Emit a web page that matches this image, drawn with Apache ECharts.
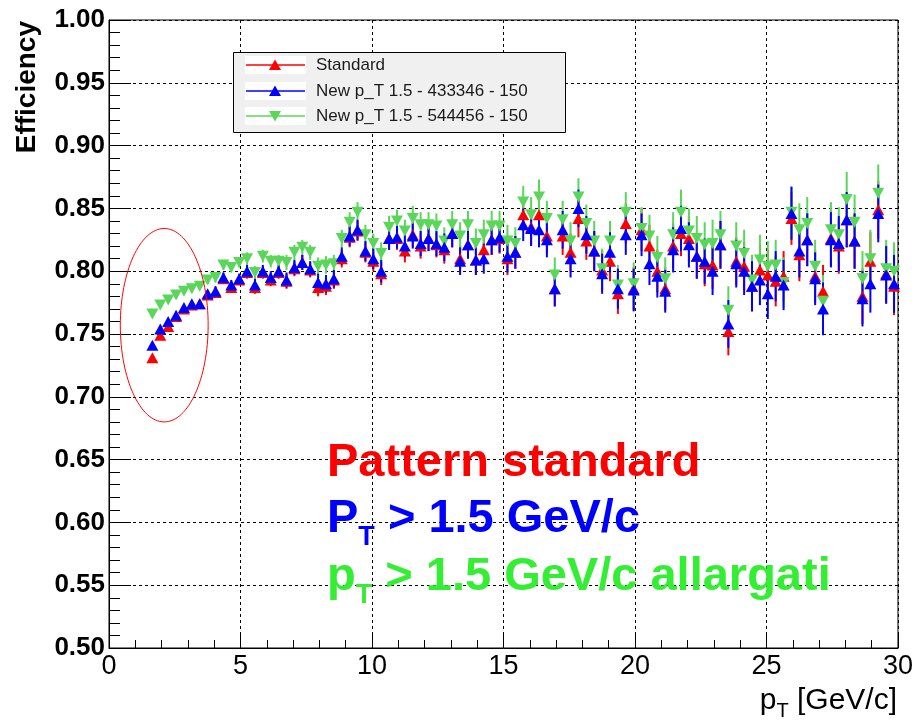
<!DOCTYPE html>
<html>
<head>
<meta charset="utf-8">
<script src="https://cdn.jsdelivr.net/npm/echarts@6/dist/echarts.min.js"></script>
<style>
  html, body { margin: 0; padding: 0; background: #ffffff; }
  #chart { width: 916px; height: 723px; }
</style>
</head>
<body>
<div id="chart"></div>
<script>
// Bin centres in pT [GeV/c] (0.3 GeV wide bins)
const ptBins = [
  1.65, 1.95, 2.25, 2.55, 2.85, 3.15, 3.45, 3.75, 4.05, 4.35,
  4.65, 4.95, 5.25, 5.55, 5.85, 6.15, 6.45, 6.75, 7.05, 7.35,
  7.65, 7.95, 8.25, 8.55, 8.85, 9.15, 9.45, 9.75, 10.05, 10.35,
  10.65, 10.95, 11.25, 11.55, 11.85, 12.15, 12.45, 12.75, 13.05, 13.35,
  13.65, 13.95, 14.25, 14.55, 14.85, 15.15, 15.45, 15.75, 16.05, 16.35,
  16.65, 16.95, 17.25, 17.55, 17.85, 18.15, 18.45, 18.75, 19.05, 19.35,
  19.65, 19.95, 20.25, 20.55, 20.85, 21.15, 21.45, 21.75, 22.05, 22.35,
  22.65, 22.95, 23.25, 23.55, 23.85, 24.15, 24.45, 24.75, 25.05, 25.35,
  25.65, 25.95, 26.25, 26.55, 26.85, 27.15, 27.45, 27.75, 28.05, 28.35,
  28.65, 28.95, 29.25, 29.55, 29.85
];

// Efficiency, standard pattern bank
const effStandard = [
  0.731, 0.749, 0.756, 0.764, 0.770, 0.773, 0.774, 0.781, 0.783, 0.794,
  0.787, 0.793, 0.799, 0.787, 0.799, 0.793, 0.799, 0.792, 0.802, 0.807,
  0.801, 0.787, 0.788, 0.793, 0.810, 0.827, 0.832, 0.815, 0.808, 0.798,
  0.826, 0.826, 0.816, 0.829, 0.820, 0.826, 0.821, 0.817, 0.830, 0.810,
  0.821, 0.809, 0.817, 0.825, 0.826, 0.810, 0.815, 0.845, 0.835, 0.845,
  0.828, 0.786, 0.828, 0.815, 0.842, 0.824, 0.816, 0.801, 0.808, 0.782,
  0.838, 0.786, 0.833, 0.820, 0.800, 0.786, 0.820, 0.830, 0.826, 0.812,
  0.806, 0.805, 0.821, 0.752, 0.808, 0.804, 0.788, 0.801, 0.797, 0.792,
  0.796, 0.842, 0.813, 0.825, 0.796, 0.784, 0.826, 0.820, 0.841, 0.824,
  0.780, 0.808, 0.849, 0.798, 0.788
];

// Efficiency, new bank pT > 1.5 (433346 patterns)
const effNew433 = [
  0.741, 0.754, 0.760, 0.765, 0.771, 0.774, 0.774, 0.782, 0.784, 0.795,
  0.789, 0.794, 0.800, 0.789, 0.800, 0.795, 0.800, 0.793, 0.803, 0.807,
  0.802, 0.791, 0.790, 0.794, 0.812, 0.828, 0.833, 0.816, 0.810, 0.800,
  0.826, 0.827, 0.820, 0.828, 0.822, 0.826, 0.822, 0.819, 0.830, 0.808,
  0.821, 0.809, 0.810, 0.825, 0.827, 0.812, 0.815, 0.837, 0.834, 0.833,
  0.825, 0.786, 0.833, 0.810, 0.850, 0.829, 0.816, 0.798, 0.815, 0.786,
  0.829, 0.785, 0.829, 0.806, 0.796, 0.784, 0.817, 0.834, 0.821, 0.812,
  0.808, 0.800, 0.821, 0.758, 0.806, 0.800, 0.788, 0.793, 0.782, 0.796,
  0.789, 0.846, 0.816, 0.825, 0.794, 0.770, 0.825, 0.822, 0.841, 0.824,
  0.778, 0.790, 0.846, 0.797, 0.790
];

// Efficiency, new bank pT > 1.5 widened (544456 patterns)
const effNew544 = [
  0.766, 0.773, 0.777, 0.781, 0.784, 0.786, 0.788, 0.793, 0.795, 0.805,
  0.803, 0.807, 0.810, 0.799, 0.812, 0.808, 0.808, 0.807, 0.815, 0.819,
  0.815, 0.804, 0.805, 0.806, 0.826, 0.839, 0.847, 0.829, 0.822, 0.814,
  0.835, 0.840, 0.832, 0.842, 0.837, 0.837, 0.836, 0.824, 0.837, 0.828,
  0.837, 0.822, 0.829, 0.836, 0.836, 0.824, 0.822, 0.855, 0.845, 0.859,
  0.842, 0.797, 0.841, 0.824, 0.859, 0.838, 0.824, 0.802, 0.824, 0.789,
  0.847, 0.790, 0.834, 0.828, 0.811, 0.794, 0.829, 0.847, 0.832, 0.826,
  0.821, 0.822, 0.829, 0.769, 0.820, 0.814, 0.793, 0.809, 0.804, 0.805,
  0.791, 0.847, 0.833, 0.838, 0.804, 0.776, 0.833, 0.829, 0.857, 0.839,
  0.794, 0.810, 0.862, 0.802, 0.800
];

// Statistical uncertainty per bin
const effErr = [
  0.002, 0.002, 0.002, 0.003, 0.003, 0.003, 0.003, 0.003, 0.004, 0.004,
  0.004, 0.004, 0.005, 0.005, 0.005, 0.005, 0.005, 0.006, 0.006, 0.006,
  0.006, 0.007, 0.007, 0.007, 0.007, 0.008, 0.008, 0.008, 0.008, 0.009,
  0.009, 0.009, 0.009, 0.010, 0.010, 0.010, 0.010, 0.011, 0.011, 0.011,
  0.011, 0.012, 0.012, 0.012, 0.012, 0.013, 0.013, 0.013, 0.014, 0.014,
  0.014, 0.014, 0.015, 0.015, 0.015, 0.015, 0.016, 0.016, 0.016, 0.016,
  0.016, 0.017, 0.017, 0.017, 0.017, 0.017, 0.018, 0.018, 0.018, 0.018,
  0.018, 0.019, 0.019, 0.019, 0.019, 0.019, 0.020, 0.020, 0.020, 0.020,
  0.020, 0.021, 0.021, 0.021, 0.021, 0.021, 0.022, 0.022, 0.022, 0.022,
  0.022, 0.023, 0.023, 0.023, 0.023
];

const seriesNames = ['Standard', 'New p_T 1.5 - 433346 - 150', 'New p_T 1.5 - 544456 - 150'];
const axisTitleY = 'Efficiency';
const axisTitleX = ['p', 'T', ' [GeV/c]'];
const notes = [
  ['Pattern standard', '', ''],
  ['P', 'T', ' > 1.5 GeV/c'],
  ['p', 'T', ' > 1.5 GeV/c allargati']
];
// Low-pT region that is circled
const highlight = { pt: 2.1, eff: 0.757, dPt: 1.67, dEff: 0.077 };

const colors = ['#ff0000', '#0000ff', '#5ad65a'];
const noteColors = ['#ff0000', '#0000ff', '#33ee33'];

const chart = echarts.init(document.getElementById('chart'), null, { renderer: 'canvas' });

function points(vals) {
  return ptBins.map((x, i) => [x, vals[i], effErr[i]]);
}
function errorBars(vals, color) {
  return {
    type: 'custom', data: points(vals), encode: { x: 0, y: 1 }, silent: true, animation: false,
    renderItem: function (params, api) {
      const x = api.value(0), y = api.value(1), e = api.value(2);
      const a = api.coord([x, y + e]), b = api.coord([x, y - e]);
      return { type: 'line', shape: { x1: a[0], y1: a[1], x2: b[0], y2: b[1] },
               style: { stroke: color, lineWidth: 2 } };
    }
  };
}
function markers(vals, color, rot) {
  return {
    type: 'scatter', data: points(vals), symbol: 'triangle', symbolSize: [12, 11],
    symbolRotate: rot, itemStyle: { color: color, opacity: 1 }, silent: true, animation: false
  };
}

const tickFontY = { fontFamily: 'Liberation Sans', fontWeight: 'bold', fontSize: 26, color: '#000' };
const tickFontX = { fontFamily: '"Liberation Sans Narrow", "Liberation Sans"', fontSize: 27, color: '#000' };

chart.setOption({
  animation: false,
  grid: { left: 109, right: 17, top: 20, bottom: 75, show: true, borderColor: '#000', borderWidth: 1, containLabel: false },
  xAxis: {
    type: 'value', min: 0, max: 30, interval: 5,
    axisLine: { show: true, onZero: false, lineStyle: { color: '#000', width: 1 } },
    axisTick: { show: true, inside: true, length: 14, lineStyle: { color: '#000' } },
    minorTick: { show: true, splitNumber: 5, length: 8, lineStyle: { color: '#000' } },
    splitLine: { show: true, lineStyle: { color: '#000', type: [3, 3], width: 1 } },
    axisLabel: Object.assign({ margin: 5 }, tickFontX)
  },
  yAxis: {
    type: 'value', min: 0.5, max: 1.0, interval: 0.05,
    axisLine: { show: true, onZero: false, lineStyle: { color: '#000', width: 1 } },
    axisTick: { show: true, inside: true, length: 22, lineStyle: { color: '#000' } },
    minorTick: { show: true, splitNumber: 5, length: 11, lineStyle: { color: '#000' } },
    splitLine: { show: true, lineStyle: { color: '#000', type: [3, 3], width: 1 } },
    axisLabel: Object.assign({ margin: 4, formatter: v => v.toFixed(2) }, tickFontY)
  },
  series: [
    errorBars(effStandard, colors[0]), markers(effStandard, colors[0], 0),
    errorBars(effNew544, colors[2]), markers(effNew544, colors[2], 180),
    errorBars(effNew433, colors[1]), markers(effNew433, colors[1], 0)
  ]
});

// ---- text helpers -------------------------------------------------------
const mctx = document.createElement('canvas').getContext('2d');
function fontStr(weight, size, family) { return weight + ' ' + size + 'px ' + family; }
function width(str, font) { mctx.font = font; return mctx.measureText(str).width; }
function midOffset(font) {
  mctx.font = font; mctx.textBaseline = 'middle';
  const d = mctx.measureText('H').actualBoundingBoxDescent;
  mctx.textBaseline = 'alphabetic';
  return d;
}
// main text + subscript + tail, placed on an alphabetic baseline
function subText(parts, x, baseline, color, size, subSize, subDrop, weight, family, alignRight) {
  const f1 = fontStr(weight, size, family), f2 = fontStr(weight, subSize, family);
  const w0 = width(parts[0], f1), w1 = parts[1] ? width(parts[1], f2) : 0, w2 = parts[2] ? width(parts[2], f1) : 0;
  let x0 = alignRight ? x - (w0 + w1 + w2) : x;
  const y1 = baseline - midOffset(f1), y2 = baseline + subDrop - midOffset(f2);
  const els = [];
  const base = { fill: color, fontFamily: family, fontWeight: weight, align: 'left', verticalAlign: 'middle' };
  els.push({ type: 'text', x: x0, y: y1, silent: true, style: Object.assign({ text: parts[0], fontSize: size }, base) });
  if (parts[1]) els.push({ type: 'text', x: x0 + w0, y: y2, silent: true, style: Object.assign({ text: parts[1], fontSize: subSize }, base) });
  if (parts[2]) els.push({ type: 'text', x: x0 + w0 + w1, y: y1, silent: true, style: Object.assign({ text: parts[2], fontSize: size }, base) });
  return els;
}

const graphics = [];

// circled region
const c = chart.convertToPixel({ gridIndex: 0 }, [highlight.pt, highlight.eff]);
const r = chart.convertToPixel({ gridIndex: 0 }, [highlight.pt + highlight.dPt, highlight.eff + highlight.dEff]);
graphics.push({ type: 'ellipse', silent: true, shape: { cx: c[0], cy: c[1], rx: r[0] - c[0], ry: c[1] - r[1] },
  style: { fill: 'none', stroke: '#ff0000', lineWidth: 1 }, z: 10 });

// legend box
const lg = { x: 233, y: 52, w: 332, h: 80, rows: [65, 91, 116] };
graphics.push({ type: 'rect', silent: true, shape: { x: lg.x + 0.5, y: lg.y + 0.5, width: lg.w, height: lg.h },
  style: { fill: '#f0f0f0', stroke: '#000', lineWidth: 1 }, z: 20 });
lg.rows.forEach((ry, i) => {
  graphics.push({ type: 'rect', silent: true, shape: { x: 245, y: ry - 9, width: 61, height: 18 }, style: { fill: '#ffffff' }, z: 21 });
  graphics.push({ type: 'line', silent: true, shape: { x1: 246, y1: ry, x2: 305, y2: ry }, style: { stroke: colors[i], lineWidth: 1.5 }, z: 22 });
  const up = i < 2;
  const pts = up ? [[275, ry - 5.5], [281, ry + 5], [269, ry + 5]] : [[275, ry + 5.5], [281, ry - 5], [269, ry - 5]];
  graphics.push({ type: 'polygon', silent: true, shape: { points: pts }, style: { fill: colors[i] }, z: 23 });
  graphics.push({ type: 'text', silent: true, x: 316, y: ry, z: 23,
    style: { text: seriesNames[i], fill: '#1a1a1a', fontFamily: 'Liberation Sans', fontSize: 17, align: 'left', verticalAlign: 'middle' } });
});

// y axis title
graphics.push({ type: 'text', silent: true, x: 27, y: 21, rotation: Math.PI / 2,
  style: { text: axisTitleY, fill: '#000', fontFamily: 'Liberation Sans', fontWeight: 'bold', fontSize: 28, align: 'right', verticalAlign: 'middle' } });

// x axis title
subText(axisTitleX, 897, 709, '#000', 30, 20, 8, 'normal', '"Liberation Sans Narrow", "Liberation Sans"', true)
  .forEach(e => graphics.push(e));

// annotations
const noteBase = [476, 532, 590];
notes.forEach((n, i) => {
  subText(n, 327, noteBase[i], noteColors[i], 47, 27, 13, 'bold', 'Liberation Sans', false).forEach(e => graphics.push(e));
});

chart.setOption({ graphic: graphics });
</script>
</body>
</html>
